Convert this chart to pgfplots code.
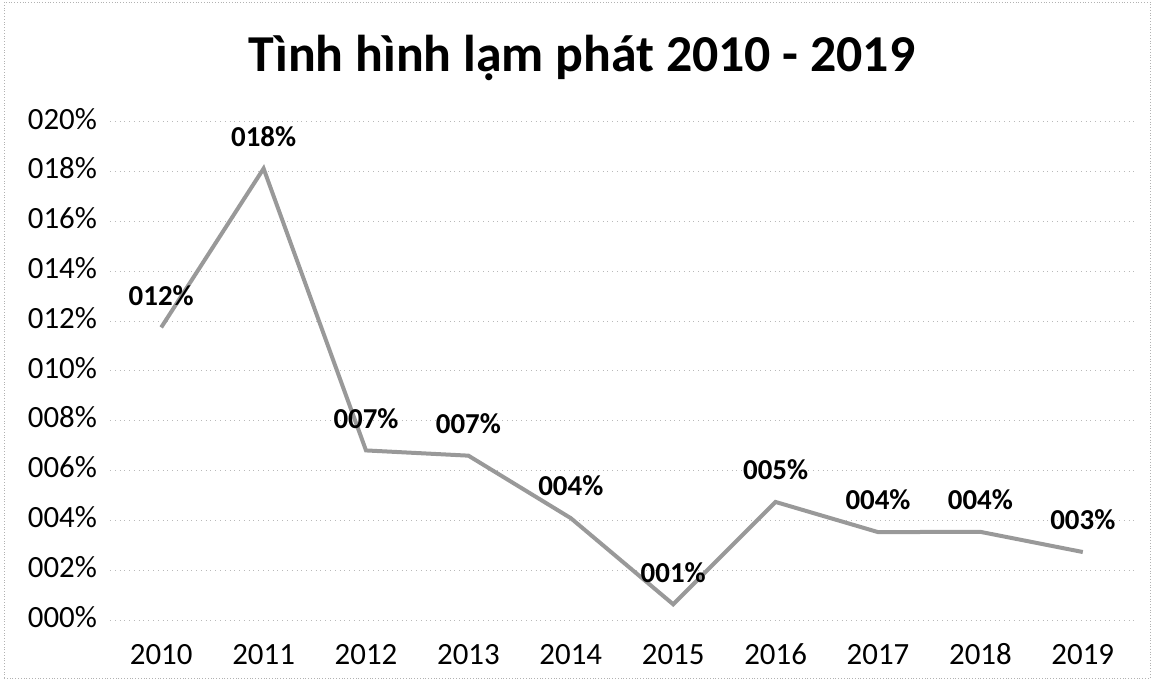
\documentclass[border=0pt]{standalone}
\usepackage{pgfplots}
\pgfplotsset{compat=1.18}
\usepackage{fontspec}
\setmainfont{Carlito}
\begin{document}
\begin{tikzpicture}
\path[use as bounding box] (0,0) rectangle (577bp,340bp);
\draw[gray!60, densely dotted, line width=0.4pt] (2bp,1bp) rectangle (575bp,339bp);
\node[font=\bfseries\fontsize{26}{31}\selectfont] at (291bp,311bp) {Tình hình lạm phát 2010 - 2019};
\begin{axis}[
  at={(55bp,30bp)}, anchor=south west,
  scale only axis, width=512bp, height=249bp,
  xmin=-0.5, xmax=9.5, ymin=0, ymax=20,
  xtick={0,...,9},
  xticklabels={2010,2011,2012,2013,2014,2015,2016,2017,2018,2019},
  ytick={0,2,...,20},
  yticklabels={000\%,002\%,004\%,006\%,008\%,010\%,012\%,014\%,016\%,018\%,020\%},
  axis line style={draw=none},
  major tick style={draw=none},
  ymajorgrids, grid style={gray!55, dotted, line width=0.5pt},
  typeset ticklabels with strut,
  tick label style={font=\fontsize{15.5}{18}\selectfont, text=black},
  xticklabel style={yshift=-6bp},
  yticklabel style={xshift=-3bp},
  clip=false,
  point meta=explicit symbolic,
  nodes near coords,
  every node near coord/.style={anchor=center, yshift=16bp, font=\bfseries\fontsize{14.5}{17}\selectfont, text=black},
]
\addplot[color=black!40, line width=2bp, mark=none] table[x=x, y=y, meta=label] {
x y label
0 11.75 012\%
1 18.13 018\%
2 6.81 007\%
3 6.60 007\%
4 4.09 004\%
5 0.63 001\%
6 4.74 005\%
7 3.53 004\%
8 3.54 004\%
9 2.73 003\%
};
\end{axis}
\end{tikzpicture}
\end{document}
